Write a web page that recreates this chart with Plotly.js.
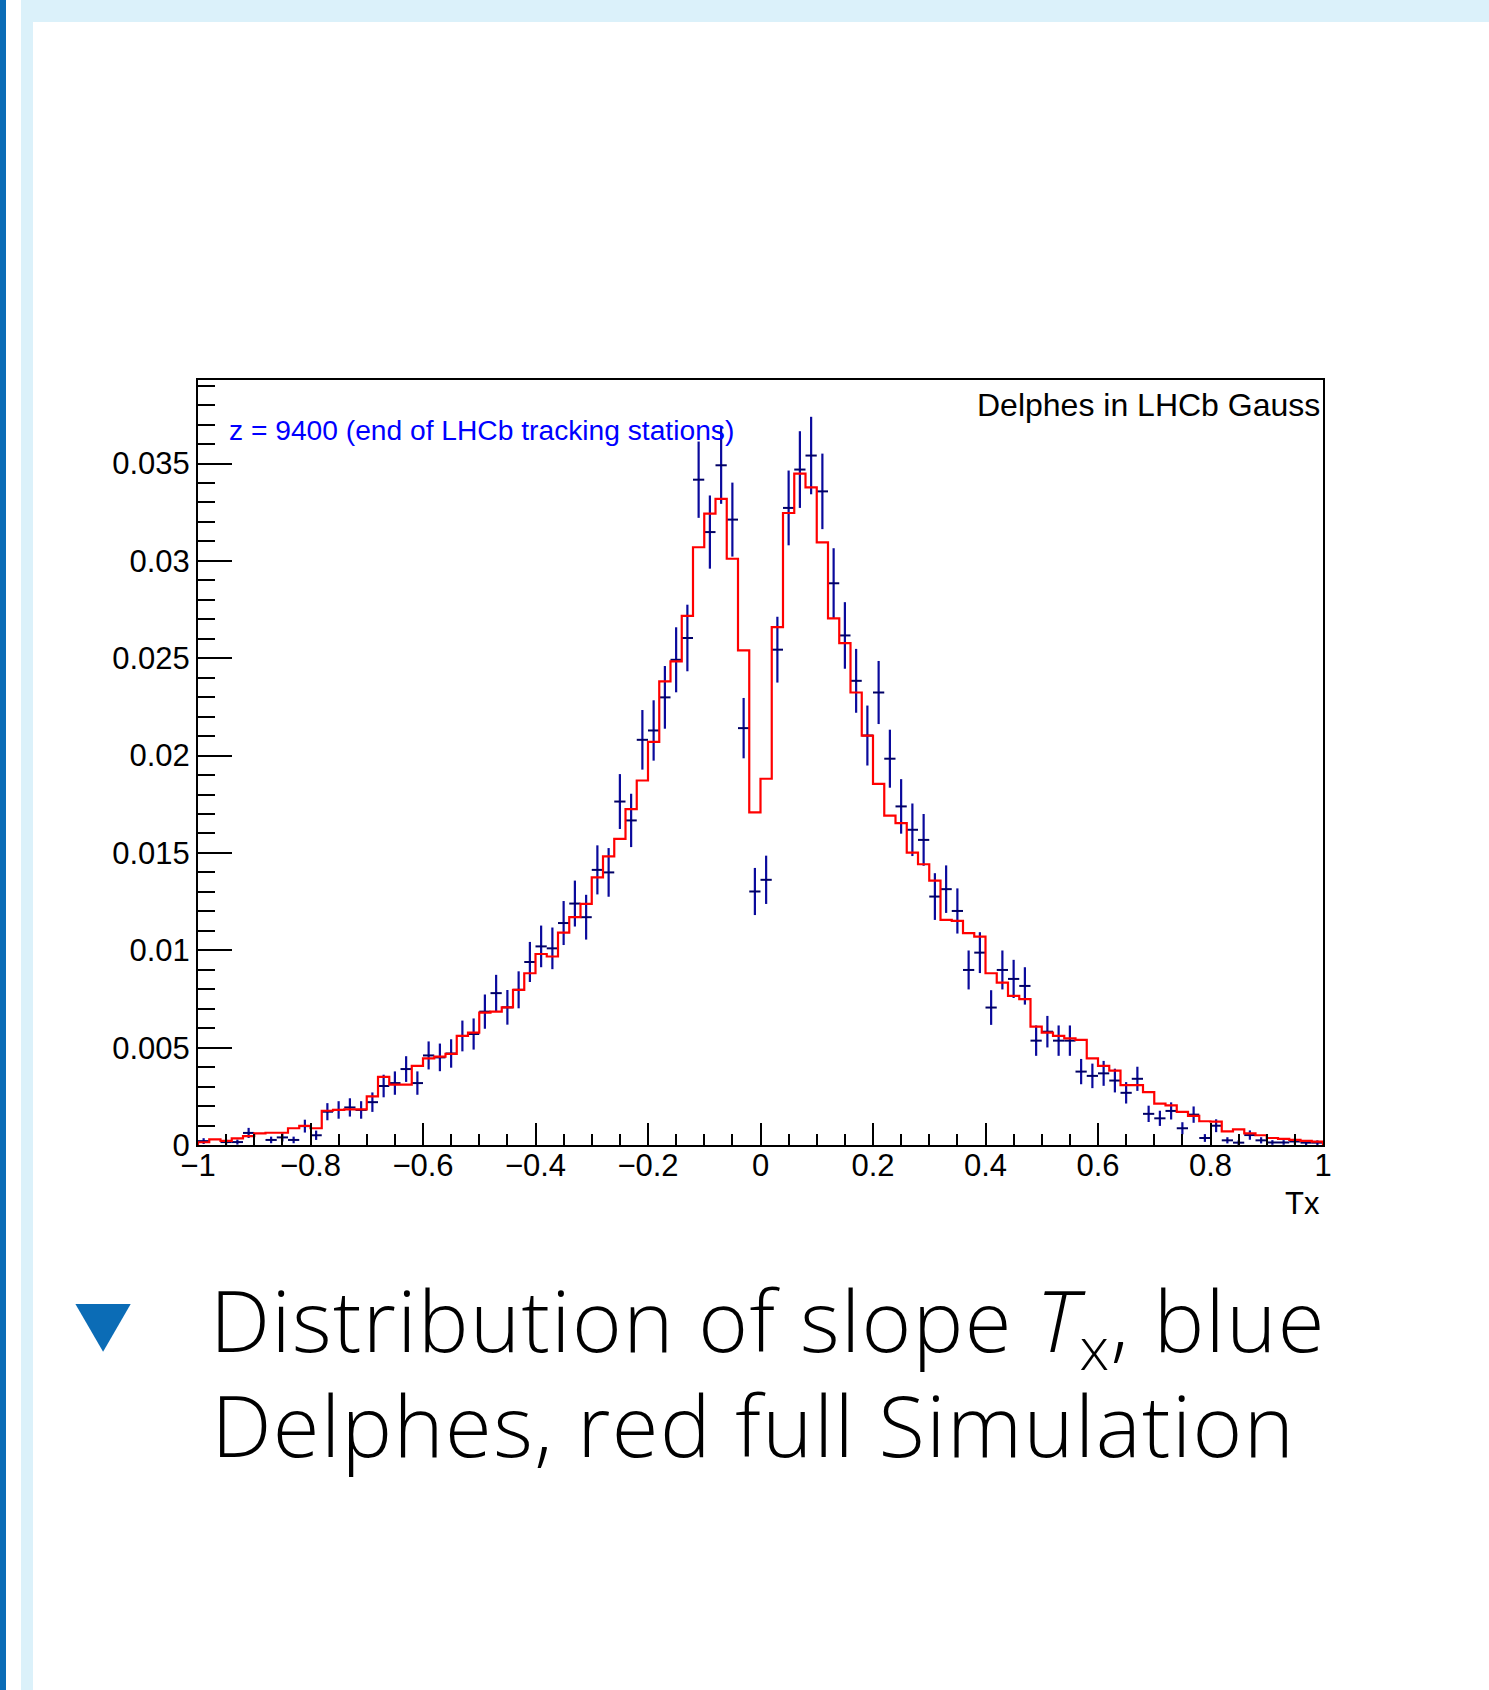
<!DOCTYPE html>
<html><head><meta charset="utf-8">
<script src="https://cdn.plot.ly/plotly-3.0.1.min.js"></script>
<style>
html,body{margin:0;padding:0;background:#fff;}
#page{position:relative;width:1489px;height:1690px;overflow:hidden;background:#fff;}
.deco{position:absolute;}
#chart{position:absolute;left:0;top:0;width:1489px;height:1690px;}
#chart text{font-variant-ligatures:none;}
#chart g.annotation[data-index="3"] text, #chart g.annotation[data-index="4"] text{letter-spacing:1.4px;}
</style></head><body>
<div id="page">
<div class="deco" style="left:0;top:0;width:6px;height:1690px;background:#0b6cb6"></div>
<div class="deco" style="left:21px;top:0;width:12px;height:1690px;background:#dbf1fa"></div>
<div class="deco" style="left:21px;top:0;width:1468px;height:22px;background:#dbf1fa"></div>
<div id="chart"></div>
</div>
<script>
// Binning of Tx
const nBins = 100, xMin = -1, xMax = 1;

// red: full simulation (normalised histogram)
const fullSim = [
0.00014,0.00029,0.00021,0.00034,0.00046,0.0006,0.00063,0.00063,0.00086,0.00098,
0.00086,0.00176,0.0018,0.00183,0.00183,0.0025,0.0035,0.0031,0.0031,0.00406,
0.00445,0.00454,0.00468,0.0056,0.00577,0.0068,0.00685,0.00707,0.00797,0.00882,
0.00981,0.00968,0.01091,0.0117,0.01238,0.01375,0.01482,0.01572,0.01725,0.01872,
0.0207,0.02381,0.02484,0.02718,0.0307,0.03243,0.03318,0.03011,0.0254,0.01708,
0.01881,0.0266,0.03246,0.03448,0.03378,0.03095,0.02705,0.02578,0.02324,0.02103,
0.01855,0.01692,0.01653,0.01502,0.01442,0.01358,0.01156,0.01151,0.01088,0.0107,
0.00882,0.00834,0.00766,0.00749,0.00608,0.00577,0.0056,0.00548,0.0054,0.00445,
0.00406,0.00382,0.00308,0.00308,0.00272,0.00212,0.00203,0.0017,0.0015,0.00122,
0.0012,0.0007,0.0008,0.0006,0.0005,0.00036,0.00031,0.00026,0.00021,0.00017];

// blue: Delphes (normalised), empty bins = null
const delphes = [
0.0002,null,0.00015,0.00015,0.00062,null,0.00026,0.00039,0.00026,0.00097,
0.0005,0.00171,0.0018,0.00193,0.0018,0.0022,0.00303,0.00318,0.0039,0.00318,
0.0046,0.0045,0.0047,0.0056,0.0057,0.00685,0.0078,0.00707,0.00797,0.0094,
0.0102,0.0101,0.0114,0.0124,0.0117,0.01413,0.014,0.01764,0.01667,0.02081,
0.02129,0.02299,0.02492,0.02604,0.03417,0.03148,0.03491,0.03212,0.02141,0.01302,
0.01362,0.02544,0.03272,0.03469,0.03541,0.03357,0.02885,0.02617,0.02384,0.02103,
0.02324,0.01984,0.01739,0.01619,0.01567,0.01276,0.01314,0.01202,0.00899,0.00988,
0.00706,0.00899,0.00853,0.00817,0.00536,0.00582,0.00536,0.00536,0.00377,0.00355,
0.00368,0.00331,0.00268,0.0034,0.0016,0.00137,0.00175,0.00086,0.00156,0.00036,
0.00099,0.00024,0.00012,0.00051,0.00024,0.00013,0.00013,0.00018,0.00012,0.00012];

// blue: statistical errors
const delphesErr = [
0.00015,0,0.00013,0.00013,0.00026,0,0.00017,0.00021,0.00017,0.00033,
0.00024,0.00044,0.00045,0.00047,0.00045,0.0005,0.00058,0.0006,0.00066,0.0006,
0.00072,0.00071,0.00073,0.00079,0.0008,0.00088,0.00094,0.00089,0.00095,0.00103,
0.00107,0.00107,0.00113,0.00118,0.00115,0.00126,0.00125,0.00141,0.00137,0.00153,
0.00155,0.00161,0.00167,0.00171,0.00196,0.00188,0.00198,0.0019,0.00155,0.00121,
0.00124,0.00169,0.00192,0.00197,0.00199,0.00194,0.0018,0.00171,0.00164,0.00154,
0.00162,0.00149,0.0014,0.00135,0.00133,0.0012,0.00122,0.00116,0.001,0.00105,
0.00089,0.001,0.00098,0.00096,0.00078,0.00081,0.00078,0.00078,0.00065,0.00063,
0.00064,0.00061,0.00055,0.00062,0.00042,0.00039,0.00044,0.00031,0.00042,0.0002,
0.00033,0.00016,0.00012,0.00024,0.00016,0.00012,0.00012,0.00014,0.00012,0.00012];

const xTickVals = [-1,-0.8,-0.6,-0.4,-0.2,0,0.2,0.4,0.6,0.8,1];
const xTickText = ['\u22121','\u22120.8','\u22120.6','\u22120.4','\u22120.2','0','0.2','0.4','0.6','0.8','1'];
const yTickVals = [0,0.005,0.01,0.015,0.02,0.025,0.03,0.035];
const yTickText = ['0','0.005','0.01','0.015','0.02','0.025','0.03','0.035'];

const xTitle = 'Tx';
const labelRight = 'Delphes in LHCb Gauss';
const labelLeft = 'z = 9400 (end of LHCb tracking stations)';
const caption1 = 'Distribution of slope <i>T</i><sub>x</sub>, blue';
const caption2 = 'Delphes, red full Simulation';

// derived bin geometry
const bw = (xMax - xMin) / nBins;
const edges = Array.from({length: nBins + 1}, (_, i) => +(xMin + i * bw).toFixed(5));
const centers = edges.slice(0, -1).map(e => +(e + bw / 2).toFixed(5));

const stepX = [edges[0]], stepY = [0];
for (let i = 0; i < nBins; i++) { stepX.push(edges[i]); stepY.push(fullSim[i]); }
stepX.push(edges[nBins]); stepY.push(fullSim[nBins - 1]);
stepX.push(edges[nBins]); stepY.push(0);

const traces = [
  {
    type: 'scatter', mode: 'markers', x: centers, y: delphes,
    marker: {size: 1, color: '#000066'},
    error_y: {type: 'data', array: delphesErr, visible: true, color: '#0a0a9c', thickness: 2.2, width: 0},
    error_x: {type: 'constant', value: bw / 2, visible: true, color: '#000066', thickness: 2, width: 0},
    hoverinfo: 'skip'
  },
  {
    type: 'scatter', mode: 'lines', x: stepX, y: stepY,
    line: {shape: 'hv', color: '#ff0000', width: 2.2},
    hoverinfo: 'skip'
  }
];

const axisCommon = {
  ticks: 'inside', tickwidth: 2, tickcolor: '#000',
  showline: true, linewidth: 2, linecolor: '#000', mirror: true,
  showgrid: false, zeroline: false, fixedrange: true,
  tickfont: {family: '"Liberation Sans", Arial, Helvetica, sans-serif', size: 31, color: '#000'}
};

const layout = {
  width: 1489, height: 1690,
  margin: {l: 198, r: 166, t: 380, b: 545, pad: 0},
  paper_bgcolor: 'rgba(0,0,0,0)', plot_bgcolor: '#ffffff',
  showlegend: false, hovermode: false,
  font: {family: '"Liberation Sans", Arial, Helvetica, sans-serif', size: 31, color: '#000'},
  xaxis: Object.assign({}, axisCommon, {
    range: [xMin, xMax], tickmode: 'array', tickvals: xTickVals, ticktext: xTickText, ticklen: 22,
    ticklabelstandoff: -8,
    minor: {tickmode: 'linear', tick0: -1, dtick: 0.05, ticks: 'inside', ticklen: 11, tickwidth: 2, tickcolor: '#000', showgrid: false}
  }),
  yaxis: Object.assign({}, axisCommon, {
    range: [0, 0.03929], tickmode: 'array', tickvals: yTickVals, ticktext: yTickText, ticklen: 34,
    minor: {tickmode: 'linear', tick0: 0, dtick: 0.001, ticks: 'inside', ticklen: 17, tickwidth: 2, tickcolor: '#000', showgrid: false}
  }),
  annotations: [
    {text: labelRight, xref: 'paper', yref: 'paper', x: 0.9992, y: 0.9673, xanchor: 'right', yanchor: 'middle', showarrow: false,
     font: {family: '"Liberation Sans", Arial, sans-serif', size: 32, color: '#000'}},
    {text: labelLeft, xref: 'paper', yref: 'paper', x: 0.0255, y: 0.9343, xanchor: 'left', yanchor: 'middle', showarrow: false,
     font: {family: '"Liberation Sans", Arial, sans-serif', size: 28.2, color: '#0000ff'}},
    {text: xTitle, xref: 'paper', yref: 'paper', x: 0.9995, y: -0.0762, xanchor: 'right', yanchor: 'middle', showarrow: false,
     font: {family: '"Liberation Sans", Arial, sans-serif', size: 31, color: '#000'}},
    {text: caption1, xref: 'paper', yref: 'paper', x: 0.0274, y: -0.2345, xanchor: 'left', yanchor: 'middle', showarrow: false,
     font: {family: '"Open Sans", Lato, sans-serif', size: 85, weight: 300, color: '#000'}},
    {text: caption2, xref: 'paper', yref: 'paper', x: 0.0274, y: -0.3646, xanchor: 'left', yanchor: 'middle', showarrow: false,
     font: {family: '"Open Sans", Lato, sans-serif', size: 85, weight: 300, color: '#000'}}
  ],
  shapes: [
    {type: 'path', xref: 'paper', yref: 'paper', layer: 'above',
     path: 'M -0.10898,-0.20784 L -0.05982,-0.20784 L -0.08436,-0.27020 Z',
     fillcolor: '#0b6cb6', line: {width: 0}}
  ]
};

Plotly.newPlot('chart', traces, layout, {staticPlot: true, displayModeBar: false});
</script>
</body></html>
